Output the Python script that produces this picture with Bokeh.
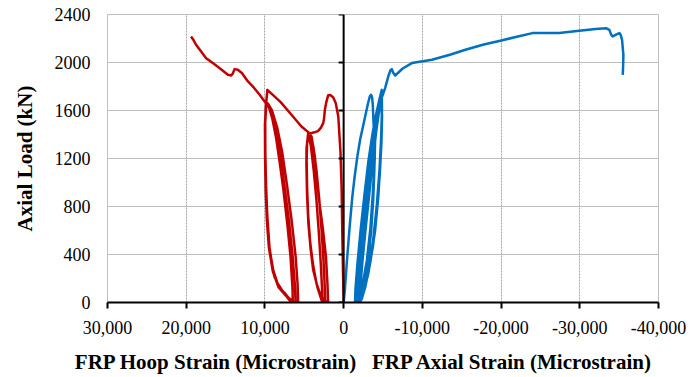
from bokeh.plotting import figure
from bokeh.models import Range1d, FixedTicker, NumeralTickFormatter, Span
from bokeh.embed import file_html
from bokeh.resources import INLINE

# ---------------- data ----------------
x_ticks = [30000, 20000, 10000, 0, -10000, -20000, -30000, -40000]
y_ticks = [0, 400, 800, 1200, 1600, 2000, 2400]

hoop_label = "FRP Hoop Strain (Microstrain)"
axial_label = "FRP Axial Strain (Microstrain)"
y_label = "Axial Load (kN)"

# FRP hoop strain (microstrain) vs axial load (kN)
hoop_strain = [
    0, 60, 150, 255, 400, 680, 1000, 1320, 1700, 1960, 2200, 2380, 2500, 2590, 2900, 3270, 3700, 4080, 4500,
    4680, 4720, 4680, 4560, 4350, 4050, 3700, 3300, 2950, 2700,
    2750, 2900, 3150, 3450, 3800, 4150, 4450,
    4650, 4700, 4640, 4500, 4250, 3900, 3450, 3000, 2600, 2350,
    2400, 2550, 2800, 3100, 3450, 3850, 4250, 4500,
    4720, 4730, 4650, 4480, 4200, 3870, 3400, 3020, 2500, 1980,
    2050, 2250, 2650, 3020, 3350, 3660, 4080, 4500,
    5360, 6630, 8000, 9000, 9690,
    9900, 9980, 9950, 9850, 9680, 9450, 9000, 8400, 7500, 6900, 6450,
    6500, 6750, 7150, 7650, 8150, 8600, 9050, 9450, 9820,
    9960, 9950, 9860, 9700, 9400, 8800, 8100, 7480, 6700, 6100,
    6200, 6500, 6950, 7500, 8000, 8500, 9000, 9450, 9850,
    10000, 9980, 9900, 9750, 9500, 9000, 8300, 7400, 6420, 5780,
    5850, 6100, 6600, 7200, 7800, 8450, 9100, 9600, 10040,
    10670, 11400, 12160, 12900, 13440, 13860, 14100, 14290, 14700, 15700, 16620, 17470, 18200, 18750, 19100, 19390,
]
hoop_load = [
    0, 200, 500, 940, 1250, 1550, 1660, 1708, 1730, 1728, 1670, 1606, 1530, 1495, 1455, 1428, 1418, 1413, 1411,
    1300, 1200, 1000, 780, 560, 380, 230, 120, 50, 0,
    120, 320, 580, 850, 1100, 1300, 1405,
    1320, 1180, 950, 720, 500, 320, 160, 70, 20, 0,
    130, 340, 600, 860, 1100, 1300, 1400, 1415,
    1280, 1150, 900, 660, 450, 272, 150, 78, 20, 0,
    150, 383, 620, 800, 1000, 1217, 1383, 1420,
    1467, 1565, 1670, 1730, 1772,
    1620, 1450, 1200, 950, 700, 470, 280, 160, 70, 20, 0,
    120, 383, 650, 939, 1180, 1380, 1530, 1620, 1665,
    1500, 1250, 980, 720, 439, 217, 120, 78, 15, 0,
    150, 400, 680, 960, 1200, 1390, 1540, 1630, 1668,
    1480, 1200, 930, 680, 460, 260, 130, 60, 8, 0,
    150, 383, 680, 980, 1250, 1460, 1600, 1655, 1675,
    1731, 1790, 1842, 1910, 1939, 1945, 1905, 1892, 1898, 1950, 1995, 2036, 2100, 2148, 2190, 2217,
]

# FRP axial strain (microstrain) vs axial load (kN)
axial_strain = [
    0, -150, -400, -765, -1100, -1400, -1750, -2100, -2460, -2800, -3100, -3320, -3480, -3600, -3700, -3790, -3850, -3900,
    -3950, -3900, -3750, -3500, -3100, -2600, -2050, -1750,
    -1800, -2050, -2400, -2800, -3200, -3550, -3850,
    -4000, -3950, -3800, -3550, -3150, -2600, -1950, -1600,
    -1650, -1900, -2250, -2700, -3150, -3550, -3900,
    -4000, -3900, -3700, -3400, -2950, -2350, -1800, -1450,
    -1500, -1750, -2150, -2650, -3150, -3650, -4100, -4500, -4850,
    -4870, -4800, -4650, -4400, -4000, -3400, -2750, -2300, -2050,
    -2100, -2400, -2800, -3250, -3700, -4150, -4550, -4780,
    -4850, -4750, -4550, -4200, -3750, -3150, -2450, -1900,
    -1950, -2250, -2650, -3100, -3600, -4100, -4550, -4800,
    -4880, -4800, -4600, -4250, -3750, -3100, -2350, -1800,
    -1850, -2150, -2600, -3100, -3650, -4200, -4700, -5270, -5700, -5950, -6120, -6300, -6550,
    -7500, -8670, -11220, -13500, -15470, -17800, -19900, -22000, -23980, -25500, -27380, -29930,
    -32000, -33330, -33760, -34000, -34180, -34600, -35030, -35200, -35370, -35540, -35500, -35460,
]
axial_load = [
    0, 100, 330, 633, 880, 1050, 1220, 1360, 1467, 1570, 1660, 1717, 1731, 1715, 1650, 1508, 1440, 1420,
    1300, 1100, 850, 600, 350, 150, 40, 0,
    100, 300, 550, 820, 1080, 1280, 1410,
    1380, 1200, 950, 680, 400, 170, 40, 0,
    100, 300, 560, 850, 1120, 1320, 1425,
    1350, 1150, 900, 620, 350, 130, 30, 0,
    110, 320, 600, 900, 1180, 1400, 1560, 1680, 1772,
    1600, 1400, 1150, 880, 600, 340, 130, 30, 0,
    120, 350, 620, 900, 1180, 1430, 1620, 1665,
    1560, 1350, 1100, 800, 520, 280, 90, 0,
    120, 360, 640, 920, 1200, 1450, 1630, 1670,
    1550, 1330, 1080, 780, 480, 230, 60, 0,
    120, 350, 650, 950, 1250, 1500, 1680, 1787, 1890, 1935, 1945, 1915, 1892,
    1950, 1995, 2023, 2065, 2106, 2150, 2181, 2215, 2245, 2245, 2245, 2264,
    2280, 2286, 2272, 2230, 2217, 2232, 2245, 2230, 2189, 2064, 1960, 1897,
]

# ---------------- figure ----------------
FONT = "Times New Roman, Liberation Serif, serif"
X_START, X_END = 30000, -40000
FRAME_W = 551

p = figure(width=688, height=377, output_backend="svg", toolbar_location=None,
           x_range=Range1d(X_START, X_END), y_range=Range1d(0, 2400),
           min_border_left=107, min_border_right=30, min_border_top=14, min_border_bottom=75,
           background_fill_color="white", border_fill_color="white")
p.title.visible = False
p.outline_line_color = "#BFBFBF"
p.outline_line_width = 1

# grids
p.xgrid.ticker = FixedTicker(ticks=x_ticks)
p.ygrid.ticker = FixedTicker(ticks=y_ticks)
p.xgrid.grid_line_color = "#A6A6A6"
p.xgrid.grid_line_dash = "2 1"
p.ygrid.grid_line_color = "#BFBFBF"

p.line(hoop_strain, hoop_load, line_color="#C00000", line_width=2.5, line_join="round")
p.line(axial_strain, axial_load, line_color="#0070C0", line_width=2.5, line_join="round")

# vertical axis through zero strain, with outward ticks (5 px long)
tick_len = (X_START - X_END) / FRAME_W * 5
p.add_layout(Span(location=0, dimension="height", line_color="black", line_width=2))
p.segment(x0=[0] * len(y_ticks), y0=y_ticks, x1=[tick_len] * len(y_ticks), y1=y_ticks,
          line_color="black", line_width=2)

# bottom axis
xa = p.xaxis[0]
xa.ticker = FixedTicker(ticks=x_ticks)
xa.formatter = NumeralTickFormatter(format="0,0")
xa.axis_line_color = "black"
xa.axis_line_width = 2
xa.major_tick_line_color = "black"
xa.major_tick_line_width = 2
xa.major_tick_out = 6
xa.major_tick_in = 0
xa.minor_tick_line_color = None
xa.major_label_standoff = 12
xa.major_label_text_font = FONT
xa.major_label_text_font_size = "18px"
xa.major_label_text_color = "black"
xa.axis_label = hoop_label + "\u00a0" * 3 + axial_label + "\u00a0" * 7
xa.axis_label_text_font = FONT
xa.axis_label_text_font_style = "bold"
xa.axis_label_text_font_size = "21px"
xa.axis_label_text_color = "black"
xa.axis_label_standoff = 13

# left axis (labels only)
ya = p.yaxis[0]
ya.ticker = FixedTicker(ticks=y_ticks)
ya.axis_line_color = None
ya.major_tick_line_color = None
ya.minor_tick_line_color = None
ya.major_tick_out = 0
ya.major_tick_in = 0
ya.major_label_standoff = 17
ya.major_label_text_font = FONT
ya.major_label_text_font_size = "18px"
ya.major_label_text_color = "black"
ya.axis_label = y_label
ya.axis_label_text_font = FONT
ya.axis_label_text_font_style = "bold"
ya.axis_label_text_font_size = "21px"
ya.axis_label_text_color = "black"
ya.axis_label_standoff = 15

open("out.html", "w").write(file_html(p, INLINE))
